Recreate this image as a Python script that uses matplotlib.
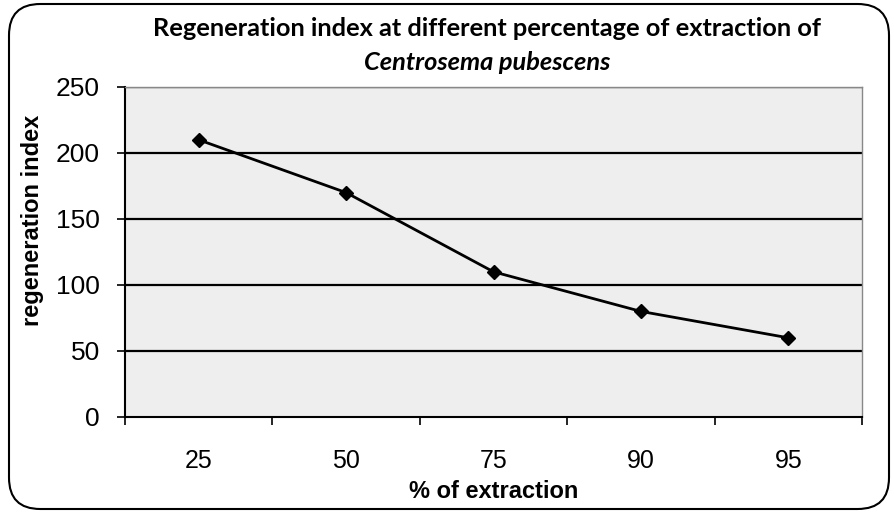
import matplotlib
matplotlib.use("Agg")
import matplotlib.pyplot as plt
from matplotlib.patches import FancyBboxPatch

categories = ["25", "50", "75", "90", "95"]
values = [210, 170, 110, 80, 60]
yticks = [0, 50, 100, 150, 200, 250]

fig = plt.figure(figsize=(8.94, 5.13), dpi=100)
W, H = 894, 513
ax = fig.add_axes([125 / W, 1 - 417 / H, (862 - 125) / W, (417 - 87) / H])
ax.set_facecolor("#eeeeee")

border = FancyBboxPatch((9 / W, 4 / H), (880 / W), (505 / H),
                        boxstyle="round,pad=0,rounding_size=0.035",
                        transform=fig.transFigure, fill=False,
                        edgecolor="black", linewidth=1.5, mutation_aspect=W / H)
fig.patches.append(border)

x = list(range(len(categories)))
ax.plot(x, values, color="black", linewidth=2, marker="D", markersize=7,
        markerfacecolor="black")

ax.set_xlim(-0.5, len(categories) - 0.5)
ax.set_ylim(0, 250)
ax.set_yticks(yticks)
ax.set_yticklabels([str(v) for v in yticks], fontsize=19, family="Liberation Sans")
ax.set_xticks(x)
ax.set_xticklabels(categories, fontsize=18, family="Liberation Sans")
ax.tick_params(axis="x", length=0, pad=23)
ax.set_xticks([i - 0.5 for i in range(len(categories) + 1)], minor=True)
ax.tick_params(axis="x", which="minor", length=6, width=1.2, direction="out")
ax.tick_params(axis="y", length=6, width=1.2, direction="out", pad=12)
for yv in yticks[1:]:
    ax.axhline(yv, color="black", linewidth=1.6, zorder=1)

for s in ["top", "right"]:
    ax.spines[s].set_color("#888888")
    ax.spines[s].set_linewidth(1)
for s in ["left", "bottom"]:
    ax.spines[s].set_color("black")
    ax.spines[s].set_linewidth(1.5)

fig.text(33 / W, 1 - 220 / H, "regeneration index", rotation=90,
         ha="center", va="center", fontsize=17, fontweight="bold",
         family="Liberation Sans")
fig.text(494 / W, 1 - 491 / H, "% of extraction",
         ha="center", va="center", fontsize=17, fontweight="bold",
         family="Liberation Sans")

fig.text(487 / W, 1 - 28 / H, "Regeneration index at different percentage of extraction of",
         ha="center", va="center", fontsize=18.3, fontweight="bold",
         family=["Lato", "DejaVu Sans"])
fig.text(487 / W, 1 - 63 / H, "Centrosema pubescens",
         ha="center", va="center", fontsize=18.3, fontweight="bold", style="italic",
         family=["Lato", "DejaVu Sans"])

fig.savefig("out.png", dpi=100)
